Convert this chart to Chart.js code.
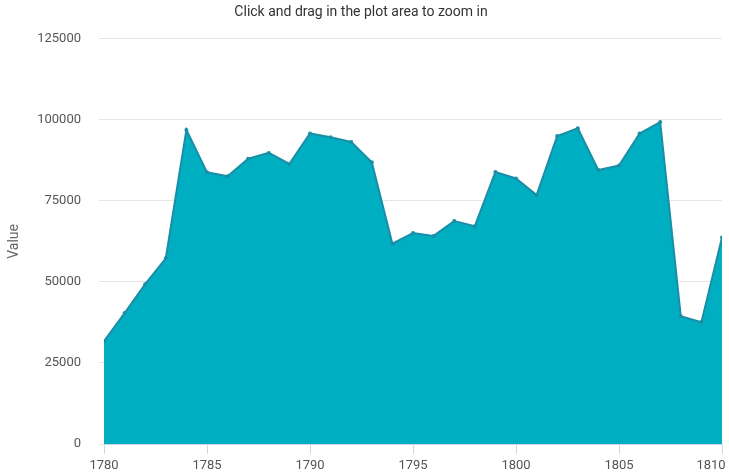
<!DOCTYPE html>
<html>
<head>
<meta charset="utf-8">
<script src="https://cdn.jsdelivr.net/npm/chart.js@4/dist/chart.umd.min.js"></script>
<style>
  html, body { margin: 0; padding: 0; background: #fff; }
  #wrap { width: 729px; height: 473px; }
</style>
</head>
<body>
<div id="wrap"><canvas id="chart" width="729" height="473"></canvas></div>
<script>
/* ---- data ---- */
const years = [1780, 1781, 1782, 1783, 1784, 1785, 1786, 1787, 1788, 1789,
               1790, 1791, 1792, 1793, 1794, 1795, 1796, 1797, 1798, 1799,
               1800, 1801, 1802, 1803, 1804, 1805, 1806, 1807, 1808, 1809, 1810];
const values = [31700, 40400, 49300, 57300, 96900, 83800, 82600, 88000, 89800, 86400,
                95800, 94600, 93200, 86900, 61800, 65100, 64200, 68800, 67200, 83900,
                81900, 76800, 95000, 97400, 84500, 85900, 95800, 99300, 39400, 37600, 63700];
const yTicks = [0, 25000, 50000, 75000, 100000, 125000];
const xTicks = [1780, 1785, 1790, 1795, 1800, 1805, 1810];

const FONT = "Roboto, 'Noto Sans', sans-serif";
const lineColor = '#1a8ea6';
const fillColor = '#00aec2';
const labelColor = '#555555';

const points = years.map((y, i) => ({ x: y, y: values[i] }));

new Chart(document.getElementById('chart'), {
  type: 'line',
  data: {
    datasets: [{
      label: 'Value',
      data: points,
      borderColor: lineColor,
      backgroundColor: fillColor,
      borderWidth: 2,
      fill: 'origin',
      tension: 0,
      pointRadius: 2,
      pointBackgroundColor: lineColor,
      pointBorderWidth: 0,
    }],
  },
  options: {
    responsive: false,
    animation: false,
    layout: { padding: { left: 0, right: 7, top: 0, bottom: 0 } },
    plugins: {
      legend: { display: false },
      tooltip: { enabled: false },
      title: {
        display: true,
        text: 'Click and drag in the plot area to zoom in',
        color: '#333333',
        font: { family: FONT, size: 14, weight: 'normal' },
        padding: { top: 4, bottom: 18 },
      },
    },
    scales: {
      x: {
        type: 'linear',
        min: 1780,
        max: 1810,
        afterBuildTicks: (axis) => { axis.ticks = xTicks.map(v => ({ value: v })); },
        // keep the last label from shrinking the plot (it sits at the edge in the original)
        afterFit: (axis) => { axis.paddingRight = 0; axis.paddingLeft = 0; axis.height = 29; },
        ticks: {
          color: labelColor,
          font: { family: FONT, size: 13 },
          padding: 4,
          maxRotation: 0,
          // last label is nudged left so it fits, like the original
          callback: (v, i, arr) => i === arr.length - 1 ? String(v) + '\u2007\u2007\u2007' : String(v),
        },
        grid: {
          drawOnChartArea: false,
          drawTicks: true,
          tickLength: 10,
          tickColor: '#ccd6eb',
        },
        border: { display: true, color: '#ccd6eb', width: 1 },
      },
      y: {
        min: 0,
        max: 125000,
        afterBuildTicks: (axis) => { axis.ticks = yTicks.map(v => ({ value: v })); },
        afterFit: (axis) => { axis.width = 104; },
        ticks: {
          color: labelColor,
          font: { family: FONT, size: 13 },
          padding: 18,
          callback: (v) => String(v),
        },
        grid: {
          color: '#e6e6e6',
          tickColor: '#e6e6e6',
          tickLength: 5,
        },
        border: { display: false },
        title: {
          display: true,
          text: 'Value',
          color: '#666666',
          font: { family: FONT, size: 14 },
          padding: { top: 6, bottom: 0 },
        },
      },
    },
  },
});
</script>
</body>
</html>
